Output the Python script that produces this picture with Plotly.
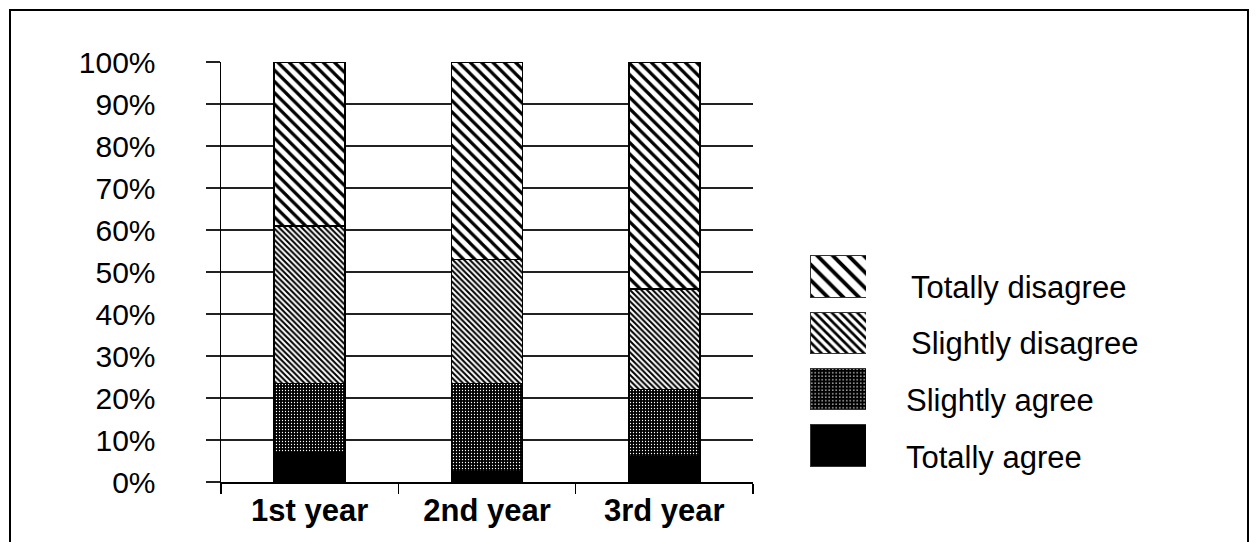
import plotly.graph_objects as go

categories = ["1st year", "2nd year", "3rd year"]
series_names = ["Totally agree", "Slightly agree", "Slightly disagree", "Totally disagree"]
totally_agree = [7, 2.5, 6]
slightly_agree = [16.5, 21, 16]
slightly_disagree = [37.5, 29.5, 24]
totally_disagree = [39, 47, 54]
y_ticks = [0, 10, 20, 30, 40, 50, 60, 70, 80, 90, 100]
y_tick_labels = [f"{v}%" for v in y_ticks]

values = [totally_agree, slightly_agree, slightly_disagree, totally_disagree]
# pattern style for bars and for legend keys
bar_patterns = [
    dict(shape="", fgcolor="black", bgcolor="black"),
    dict(shape=".", fgcolor="white", bgcolor="black", size=3, solidity=0.15),
    dict(shape="\\", fgcolor="black", bgcolor="white", size=4, solidity=0.5),
    dict(shape="\\", fgcolor="black", bgcolor="white", size=8, solidity=0.4),
]
key_patterns = [
    dict(shape="", fgcolor="black", bgcolor="black"),
    dict(shape=".", fgcolor="white", bgcolor="black", size=3.5, solidity=0.15),
    dict(shape="\\", fgcolor="black", bgcolor="white", size=6, solidity=0.45),
    dict(shape="\\", fgcolor="black", bgcolor="white", size=11, solidity=0.35),
]

FONT = "Liberation Sans, Arial, sans-serif"
fig = go.Figure()
for name, vals, pat in zip(series_names, values, bar_patterns):
    fig.add_trace(go.Bar(
        x=categories, y=vals, name=name, showlegend=False,
        marker=dict(color="black" if pat["shape"] == "" else "white",
                    line=dict(color="black", width=1.5),
                    pattern=dict(pat, fgopacity=1)),
        hoverinfo="skip",
    ))

# legend keys drawn as small horizontal bars (bottom to top: agree -> disagree)
for name, pat in zip(series_names, key_patterns):
    fig.add_trace(go.Bar(
        x=[1], y=[name], orientation="h",
        xaxis="x2", yaxis="y2", showlegend=False, hoverinfo="skip", width=0.73,
        marker=dict(color="black" if pat["shape"] == "" else "white",
                    line=dict(color="#333", width=1),
                    pattern=dict(pat, fgopacity=1)),
    ))

W, H = 1258, 542
leg_order = list(reversed(series_names))  # top to bottom
leg_text_pos = [(909, 287), (909, 343), (904, 400), (904, 457)]
annotations = []
for name, (px, py) in zip(leg_order, leg_text_pos):
    annotations.append(dict(
        text=name, xref="paper", yref="paper", x=px / W, y=(H - py) / H,
        xanchor="left", yanchor="middle", showarrow=False,
        font=dict(family=FONT, size=31, color="black"),
    ))

fig.update_layout(
    width=W, height=H, margin=dict(l=0, r=0, t=0, b=0, autoexpand=False),
    paper_bgcolor="white", plot_bgcolor="white",
    barmode="stack", bargap=0.6,
    font=dict(family=FONT, size=30, color="black"),
    xaxis=dict(domain=[221 / W, 753 / W], showline=True, linecolor="black", linewidth=1.5,
               ticks="outside", tickson="boundaries", ticklen=10, tickcolor="black", tickwidth=1.5,
               showgrid=False, tickfont=dict(family=FONT, size=31, weight="bold"),
               anchor="y", automargin=False),
    yaxis=dict(domain=[(H - 482) / H, (H - 62) / H], range=[0, 100], tickmode="array",
               tickvals=y_ticks, ticktext=y_tick_labels,
               showline=True, linecolor="black", linewidth=1.5,
               showgrid=True, gridcolor="#222", gridwidth=1.5, zeroline=False,
               ticks="outside", ticklen=14, tickcolor="#222", tickwidth=1.5,
               ticklabelstandoff=44, tickfont=dict(family=FONT, size=30), anchor="x",
               automargin=False),
    xaxis2=dict(domain=[810 / W, 866 / W], range=[0, 1], visible=False, anchor="y2",
                automargin=False),
    yaxis2=dict(domain=[(H - 473.6) / H, (H - 248.4) / H], visible=False, anchor="x2",
                categoryorder="array", categoryarray=series_names, automargin=False),
    annotations=annotations,
    shapes=[dict(type="rect", xref="paper", yref="paper", x0=10 / W, x1=1248 / W,
                 y0=-0.1, y1=(H - 10) / H, line=dict(color="black", width=2))],
    hovermode=False,
)

fig.write_html("out.html", config={"displayModeBar": False, "staticPlot": True},
               post_script="document.body.style.margin='0';")
